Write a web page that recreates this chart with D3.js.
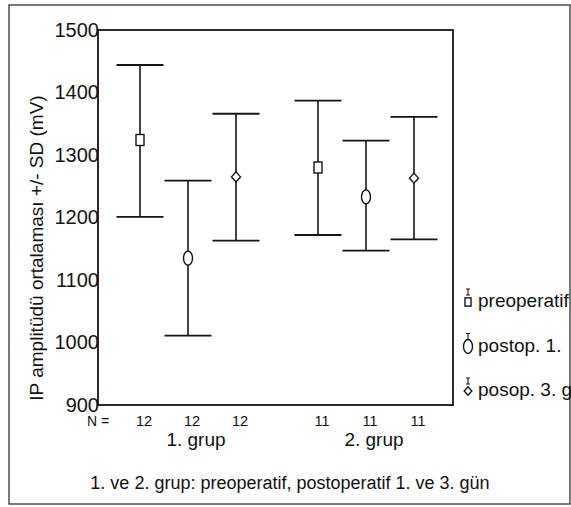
<!DOCTYPE html>
<html>
<head>
<meta charset="utf-8">
<script src="https://cdn.jsdelivr.net/npm/d3@7"></script>
<style>
  html, body { margin: 0; padding: 0; background: #fff; }
  svg { display: block; }
  text { font-family: "Liberation Sans", Arial, Helvetica, sans-serif; fill: #111; }
</style>
</head>
<body>
<svg id="chart" width="571" height="507"></svg>
<script>
// data
var groups = ["1. grup", "2. grup"];
var series = ["preoperatif", "postop. 1.", "posop. 3. gün"];
var means = [[1324, 1135, 1265], [1280, 1233, 1263]];
var upper = [[1444, 1259, 1366], [1387, 1323, 1361]];
var lower = [[1201, 1011, 1163], [1172, 1147, 1165]];
var counts = [[12, 12, 12], [11, 11, 11]];
var yTicks = [900, 1000, 1100, 1200, 1300, 1400, 1500];

var svg = d3.select("#chart");
var ink = "#151515";

var plot = { left: 98, top: 30, right: 453, bottom: 405 };

var y = d3.scaleLinear().domain([900, 1500]).range([plot.bottom, plot.top]);
var xGroup = d3.scalePoint().domain(groups).range([188, 366]);
var xInner = d3.scalePoint().domain(series).range([-48, 48]);

// flatten into one row per error bar
var rows = [];
groups.forEach(function(g, gi) {
    series.forEach(function(s, si) {
        rows.push({
            group: g, series: s,
            mean: means[gi][si], hi: upper[gi][si], lo: lower[gi][si],
            n: counts[gi][si],
            x: xGroup(g) + xInner(s)
        });
    });
});

// outer frame
svg.append("rect")
    .attr("x", 9).attr("y", 5)
    .attr("width", 561).attr("height", 499)
    .attr("fill", "none")
    .attr("stroke", "#333").attr("stroke-width", 1.3);

// plot box
svg.append("rect")
    .attr("x", plot.left).attr("y", plot.top)
    .attr("width", plot.right - plot.left).attr("height", plot.bottom - plot.top)
    .attr("fill", "none")
    .attr("stroke", ink).attr("stroke-width", 1.8);

// y axis, labels only, pushed against the axis line
var yAxis = d3.axisLeft(y).tickValues(yTicks).tickFormat(d3.format("d"))
    .tickSize(0).tickPadding(0);
var ya = svg.append("g")
    .attr("transform", "translate(" + (plot.left + 1) + ",0)")
    .call(yAxis);
ya.select(".domain").remove();
ya.attr("font-size", 20).attr("font-family", "'Liberation Sans', Arial, sans-serif");
ya.selectAll("text")
    .attr("dy", "0.3em")
    .style("fill", ink);

svg.append("text")
    .attr("transform", "translate(43," + 248 + ") rotate(-90)")
    .attr("text-anchor", "middle")
    .attr("font-size", 19)
    .text("IP amplitüdü ortalaması +/- SD (mV)");

// error bars
var capHalf = 23.5;
var bars = svg.append("g").selectAll("g")
    .data(rows)
    .enter().append("g")
    .attr("stroke", ink).attr("fill", "none");

bars.append("line")
    .attr("x1", function(d) { return d.x; }).attr("x2", function(d) { return d.x; })
    .attr("y1", function(d) { return y(d.hi); }).attr("y2", function(d) { return y(d.lo); })
    .attr("stroke-width", 1.6);

bars.selectAll(".cap")
    .data(function(d) { return [{ x: d.x, v: d.hi }, { x: d.x, v: d.lo }]; })
    .enter().append("line")
    .attr("class", "cap")
    .attr("x1", function(d) { return d.x - capHalf; }).attr("x2", function(d) { return d.x + capHalf; })
    .attr("y1", function(d) { return y(d.v); }).attr("y2", function(d) { return y(d.v); })
    .attr("stroke-width", 1.8);

// marker shapes per series
function drawMarker(sel, s, cx, cy, scale) {
    var k = scale || 1;
    var m;
    if (s === series[0]) {
        m = sel.append("rect")
            .attr("x", cx - 4 * k).attr("y", cy - 5.5 * k)
            .attr("width", 8 * k).attr("height", 11 * k);
    } else if (s === series[1]) {
        m = sel.append("ellipse")
            .attr("cx", cx).attr("cy", cy)
            .attr("rx", 4.5 * k).attr("ry", 7 * k);
    } else {
        m = sel.append("path")
            .attr("d", "M" + cx + "," + (cy - 5 * k) + "L" + (cx + 4.5 * k) + "," + cy +
                "L" + cx + "," + (cy + 5 * k) + "L" + (cx - 4.5 * k) + "," + cy + "Z");
    }
    return m.attr("fill", "#fff").attr("stroke", ink).attr("stroke-width", 1.4);
}

bars.each(function(d) {
    drawMarker(d3.select(this), d.series, d.x, y(d.mean));
});

// N row
svg.append("text")
    .attr("x", 87).attr("y", 426)
    .attr("font-size", 14)
    .text("N =");

svg.append("g").selectAll("text")
    .data(rows)
    .enter().append("text")
    .attr("x", function(d) { return d.x + 4; })
    .attr("y", 426)
    .attr("text-anchor", "middle")
    .attr("font-size", 14.5)
    .text(function(d) { return d.n; });

svg.append("g").selectAll("text")
    .data(groups)
    .enter().append("text")
    .attr("x", function(g) { return xGroup(g) + 8; })
    .attr("y", 446)
    .attr("text-anchor", "middle")
    .attr("font-size", 19)
    .text(function(g) { return g; });

// legend (runs off the right edge as in the original)
var legendY = d3.scalePoint().domain(series).range([307, 396]);
var legend = svg.append("g").selectAll("g")
    .data(series)
    .enter().append("g");

legend.each(function(s, i) {
    var g = d3.select(this);
    var ly = legendY(s);
    var sizes = [0.75, 1, 0.85];
    // little error-bar glyph
    g.append("path")
        .attr("d", "M466," + (ly - 18) + "h4M468," + (ly - 18) + "v6M466," + (ly - 12) + "h4")
        .attr("stroke", ink).attr("stroke-width", 1.1).attr("fill", "none");
    drawMarker(g, s, 468, ly - 5, sizes[i]);
    g.append("text")
        .attr("x", 478).attr("y", ly)
        .attr("font-size", 19)
        .text(s);
});

// caption
svg.append("text")
    .attr("x", 290).attr("y", 489)
    .attr("text-anchor", "middle")
    .attr("font-size", 18)
    .text("1. ve 2. grup: preoperatif, postoperatif 1. ve 3. gün");
</script>
</body>
</html>
